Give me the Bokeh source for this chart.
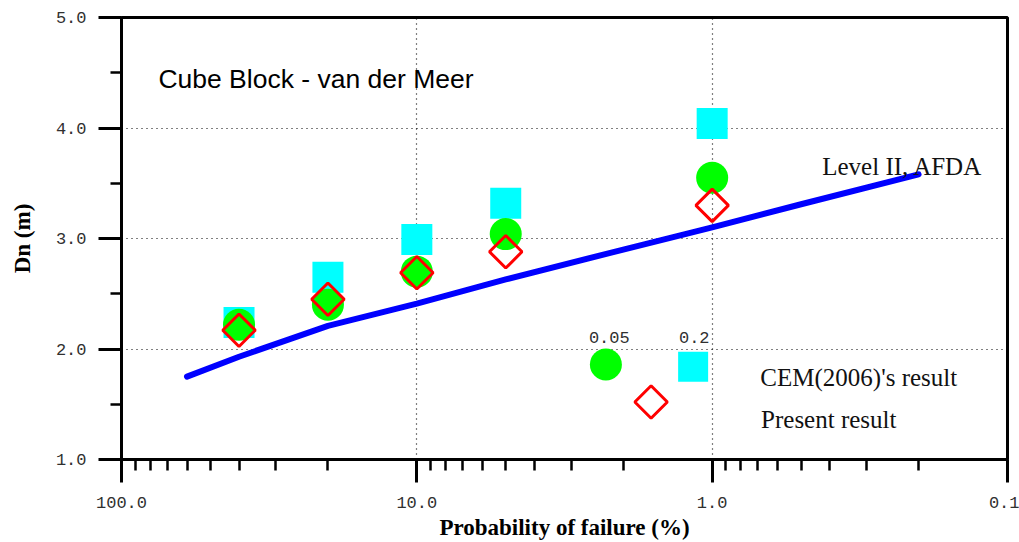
import numpy as np
from bokeh.plotting import figure
from bokeh.models import Range1d, FixedTicker, PrintfTickFormatter, Label
from bokeh.embed import file_html
from bokeh.resources import INLINE

# Probability of failure (%) of each evaluated design
prob_fail = [40, 20, 10, 5, 1]
# Required cube size Dn (m)
dn_cem_s02 = [2.24, 2.65, 2.99, 3.32, 4.04]    # CEM (2006), damage 0.2
dn_cem_s005 = [2.22, 2.40, 2.70, 3.04, 3.55]   # CEM (2006), damage 0.05
dn_present = [2.17, 2.45, 2.69, 2.88, 3.30]    # present result

# Level II (AFDA) reliability curve
level2_prob = [60, 40, 20, 10, 5, 2, 1, 0.5, 0.2]
level2_dn = [1.75, 1.93, 2.21, 2.41, 2.63, 2.90, 3.10, 3.31, 3.58]

# Axis ticks
major_x = [0.1, 1.0, 10.0, 100.0]
minor_x = [k * d for d in (0.1, 1.0, 10.0) for k in range(2, 10)]
major_y = [1.0, 2.0, 3.0, 4.0, 5.0]
minor_y = [1.5, 2.5, 3.5, 4.5]

# Key symbols, given in (probability, Dn) coordinates
key_cem005 = ([2.29], [1.86])
key_cem02 = ([1.16], [1.84])
key_present = ([1.61], [1.52])

CYAN = "#00FFFF"
GREEN = "#00FF00"
RED = "#FF0000"
BLUE = "#0000FF"
TICK_FONT = "Liberation Mono"
SERIF = "Liberation Serif"

p = figure(width=1019, height=542, x_axis_type="log",
           x_range=Range1d(100, 0.1), y_range=Range1d(1, 5),
           output_backend="svg", toolbar_location=None,
           min_border_left=121, min_border_right=12,
           min_border_top=17, min_border_bottom=83)
p.background_fill_color = "white"
p.border_fill_color = "white"
p.outline_line_color = "black"
p.outline_line_width = 3

# x axis
xa = p.xaxis[0]
xa.ticker = FixedTicker(ticks=major_x, minor_ticks=minor_x)
xa.formatter = PrintfTickFormatter(format="%.1f")
xa.axis_label = "Probability of failure (%)"
# y axis
ya = p.yaxis[0]
ya.ticker = FixedTicker(ticks=major_y, minor_ticks=minor_y)
ya.formatter = PrintfTickFormatter(format="%.1f")
ya.axis_label = "Dn (m)"

for ax in (xa, ya):
    ax.axis_line_width = 3
    ax.axis_line_color = "black"
    ax.major_tick_line_width = 3
    ax.minor_tick_line_width = 2.5
    ax.major_tick_in = 0
    ax.minor_tick_in = 0
    ax.major_tick_out = 23
    ax.minor_tick_out = 11
    ax.major_label_text_font = TICK_FONT
    ax.major_label_text_font_size = "17px"
    ax.major_label_text_color = "#303030"
    ax.axis_label_text_font = SERIF
    ax.axis_label_text_font_style = "bold"
    ax.axis_label_text_font_size = "23px"
    ax.axis_label_text_color = "black"
xa.major_label_standoff = 14
xa.axis_label_standoff = 4
ya.major_label_standoff = 12
ya.axis_label_standoff = 18

# dotted grid
for g in (p.xgrid[0], p.ygrid[0]):
    g.grid_line_color = "black"
    g.grid_line_width = 1.2
    g.grid_line_dash = "1 4"
p.xgrid[0].ticker = FixedTicker(ticks=major_x)
p.ygrid[0].ticker = FixedTicker(ticks=major_y)

# Level II curve
p.line(level2_prob, level2_dn, line_color=BLUE, line_width=6, line_cap="round",
       line_join="round")

# results
p.scatter(prob_fail, dn_cem_s02, marker="square", size=31,
          fill_color=CYAN, line_color=None)
p.scatter(prob_fail, dn_cem_s005, marker="circle", size=32,
          fill_color=GREEN, line_color=None)
p.scatter(prob_fail, dn_present, marker="square", size=23, angle=np.pi / 4,
          fill_alpha=0, line_color=RED, line_width=3)

# key symbols
p.scatter(*key_cem005, marker="circle", size=32, fill_color=GREEN, line_color=None)
p.scatter(*key_cem02, marker="square", size=30, fill_color=CYAN, line_color=None)
p.scatter(*key_present, marker="square", size=23, angle=np.pi / 4,
          fill_alpha=0, line_color=RED, line_width=3)

# annotations
p.add_layout(Label(x=75, y=4.443, text="Cube Block - van der Meer",
                   text_font="Liberation Sans", text_font_size="26.5px",
                   text_color="black", text_baseline="alphabetic"))
p.add_layout(Label(x=0.424, y=3.65, text="Level II, AFDA",
                   text_font=SERIF, text_font_size="25px",
                   text_color="#111111", text_baseline="alphabetic"))
p.add_layout(Label(x=0.687, y=1.738, text="CEM(2006)'s result",
                   text_font=SERIF, text_font_size="25px",
                   text_color="#111111", text_baseline="alphabetic"))
p.add_layout(Label(x=0.683, y=1.36, text="Present result",
                   text_font=SERIF, text_font_size="25px",
                   text_color="#111111", text_baseline="alphabetic"))
p.add_layout(Label(x=2.23, y=2.10, text="0.05", text_align="center",
                   text_font=TICK_FONT, text_font_size="17px",
                   text_color="#303030", text_baseline="alphabetic"))
p.add_layout(Label(x=1.15, y=2.10, text="0.2", text_align="center",
                   text_font=TICK_FONT, text_font_size="17px",
                   text_color="#303030", text_baseline="alphabetic"))

open("out.html", "w").write(file_html(p, INLINE))
